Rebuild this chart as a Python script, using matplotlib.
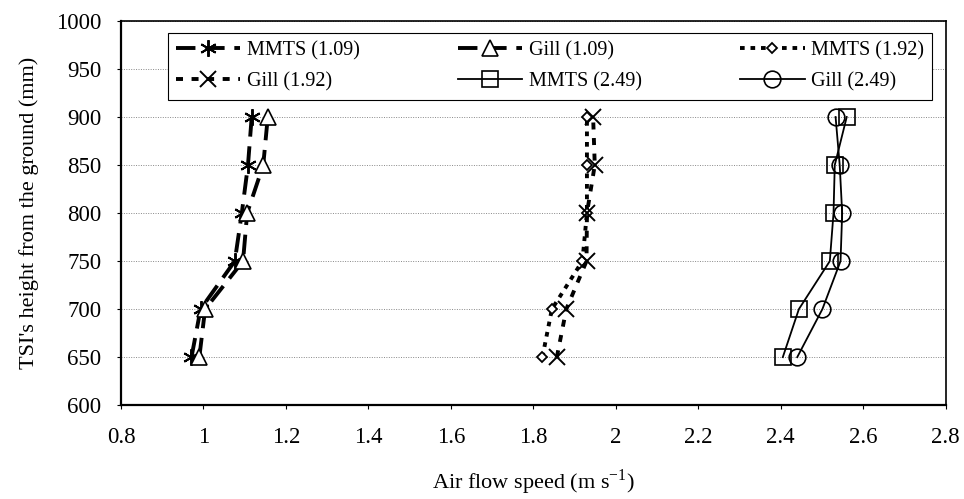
import matplotlib
matplotlib.use("Agg")
import matplotlib.pyplot as plt

heights = [650, 700, 750, 800, 850, 900]
mmts_109 = [0.971, 0.993, 1.076, 1.093, 1.108, 1.117]
gill_109 = [0.990, 1.004, 1.096, 1.106, 1.145, 1.156]
mmts_192 = [1.822, 1.845, 1.919, 1.930, 1.930, 1.930]
gill_192 = [1.857, 1.880, 1.929, 1.930, 1.949, 1.945]
mmts_249 = [2.405, 2.444, 2.519, 2.528, 2.531, 2.560]
gill_249 = [2.440, 2.501, 2.545, 2.549, 2.543, 2.533]

xticks = [0.8, 1.0, 1.2, 1.4, 1.6, 1.8, 2.0, 2.2, 2.4, 2.6, 2.8]
xtick_labels = ["0.8", "1", "1.2", "1.4", "1.6", "1.8", "2", "2.2", "2.4", "2.6", "2.8"]
yticks = [600, 650, 700, 750, 800, 850, 900, 950, 1000]

plt.rcParams['font.family'] = ['Liberation Serif', 'DejaVu Serif']
plt.rcParams['mathtext.fontset'] = 'custom'
plt.rcParams['mathtext.rm'] = 'Liberation Serif'

fig = plt.figure(figsize=(9.64, 4.99), dpi=100)
ax = fig.add_axes([0.1255, 0.188, 0.8555, 0.770])

h1, = ax.plot(mmts_109, heights, color='black', lw=2.8, dashes=(5, 2.5),
              marker=(6, 2, 0), ms=12, mew=1.4, label='MMTS (1.09)')
h2, = ax.plot(gill_109, heights, color='black', lw=2.8, dashes=(5, 2.5),
              marker='^', ms=11, mfc='white', mec='black', mew=1.2, label='Gill (1.09)')
h3, = ax.plot(mmts_192, heights, color='black', lw=2.8, dashes=(1.2, 1.5),
              marker='D', ms=5, mfc='white', mec='black', mew=1.3, label='MMTS (1.92)')
h4, = ax.plot(gill_192, heights, color='black', lw=2.8, dashes=(1.8, 2.2),
              marker='x', ms=12, mew=1.4, label='Gill (1.92)')
h5, = ax.plot(mmts_249, heights, color='black', lw=1.3,
              marker='s', ms=12, mfc='none', mec='black', mew=1.2, label='MMTS (2.49)')
h6, = ax.plot(gill_249, heights, color='black', lw=1.3,
              marker='o', ms=12, mfc='none', mec='black', mew=1.2, label='Gill (2.49)')

ax.set_xlim(0.8, 2.8)
ax.set_ylim(600, 1000)
ax.set_xticks(xticks)
ax.set_xticklabels(xtick_labels)
ax.set_yticks(yticks)
ax.tick_params(axis='both', labelsize=16.5, length=3, direction='out', width=0.8, colors='black')
ax.tick_params(axis='x', pad=13)
ax.tick_params(axis='y', pad=11)
ax.yaxis.grid(True, linestyle=(0, (1, 1.5)), color='#888888', lw=0.7)
ax.set_axisbelow(True)
for s in ax.spines.values():
    s.set_linewidth(1.2)
    s.set_color('black')
ax.spines['left'].set_linewidth(1.6)
ax.spines['bottom'].set_linewidth(1.6)

ax.set_xlabel('Air flow speed (m s$^{\\mathregular{-1}}$)', fontsize=16, labelpad=14)
ax.set_ylabel("TSI's height from the ground (mm)", fontsize=16, labelpad=12)

handles = [h1, h4, h2, h5, h3, h6]
leg = ax.legend(handles=handles, labels=[h.get_label() for h in handles], ncol=3,
                loc='upper left', bbox_to_anchor=(0.057, 0.802, 0.926, 0.167), mode='expand',
                bbox_transform=ax.transAxes, fontsize=14.5, frameon=True, fancybox=False,
                edgecolor='black', framealpha=1, handlelength=3.2, handletextpad=0.3,
                borderpad=0.4, labelspacing=0.6, columnspacing=1.0, borderaxespad=0)
leg.get_frame().set_linewidth(0.8)

fig.savefig('out.png', dpi=100)
